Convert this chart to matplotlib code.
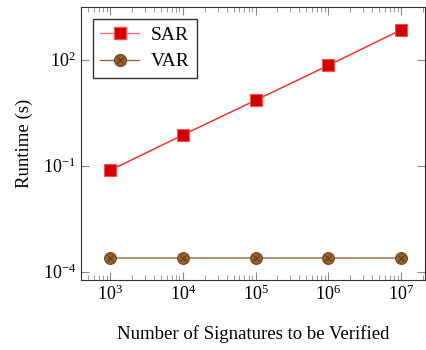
import matplotlib.pyplot as plt
from matplotlib.lines import Line2D

plt.rcParams['font.family'] = 'Liberation Serif'
plt.rcParams['mathtext.fontset'] = 'custom'
plt.rcParams['mathtext.rm'] = 'Liberation Serif'
plt.rcParams['mathtext.it'] = 'Liberation Serif:italic'

# data
signatures = [1e3, 1e4, 1e5, 1e6, 1e7]
sar_runtime = [0.0736, 0.74, 7.1, 69, 700]
var_runtime = [2.5e-4, 2.5e-4, 2.5e-4, 2.5e-4, 2.5e-4]

fig = plt.figure(figsize=(4.26, 3.5), dpi=100)
ax = fig.add_axes([0.19, 0.2, 0.808, 0.78])

ax.plot(signatures, sar_runtime, color='#ff2020', lw=1, marker='s', ms=8,
        mfc='#d00000', mec='#ff5050', mew=0.8)
ax.plot(signatures, var_runtime, color='#a88a6a', lw=1.3, marker='o', ms=8.5,
        mfc='#96602d', mec='#7a4a20', mew=0.8)
ax.plot(signatures, var_runtime, ls='none', marker='x', ms=5, mec='#5a3515', mew=0.7)

ax.set_xscale('log')
ax.set_yscale('log')
ax.set_xlim(10**2.6, 10**7.33)
ax.set_ylim(10**-4.235, 10**3.49)
ax.set_yticks([1e-4, 1e-1, 1e2])
ax.set_xticks(signatures)

ax.tick_params(which='both', direction='in', top=True, right=True, colors='#888888',
               labelcolor='black', labelsize=13)
ax.tick_params(which='major', length=6)
ax.tick_params(which='minor', length=3.5)
ax.yaxis.set_minor_locator(plt.NullLocator())
for s in ax.spines.values():
    s.set_color('#333333')

ax.set_xlabel('Number of Signatures to be Verified', fontsize=13.5, labelpad=15)
ax.set_ylabel('Runtime (s)', fontsize=13.5, labelpad=7)

handles = [
    Line2D([], [], color='#ff7070', lw=1, marker='s', ms=8, mfc='#d00000', mec='#ff5050'),
    (Line2D([], [], color='#8a6a4a', lw=1, marker='o', ms=8.5, mfc='#96602d', mec='#7a4a20'),
     Line2D([], [], ls='none', marker='x', ms=5, mec='#5a3515', mew=0.7)),
]
leg = ax.legend(handles, ['SAR', 'VAR'], loc='upper left', fontsize=14, fancybox=False,
                edgecolor='#333333', framealpha=1, handlelength=2.0, handletextpad=0.6,
                borderaxespad=0.6, labelspacing=0.45)
leg.get_frame().set_linewidth(1)

fig.savefig('out.png', dpi=100)
